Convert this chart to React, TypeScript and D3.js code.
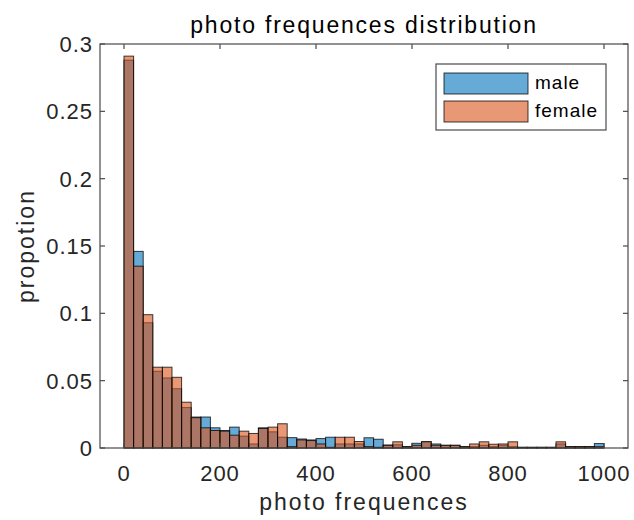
import React, { useEffect, useRef } from "react";
import * as d3 from "d3";

// histogram bin edges: 0..1000 step 20
const binStart = 0;
const binWidth = 20;

const maleValues = [
  0.288, 0.146, 0.093, 0.057, 0.052, 0.044, 0.03, 0.023, 0.023, 0.015,
  0.013, 0.0155, 0.0088, 0.003, 0.015, 0.012, 0.008, 0.0077, 0.0067, 0.006,
  0.007, 0.008, 0.003, 0.003, 0.003, 0.0076, 0.0065, 0.0022, 0.0024, 0.001,
  0.0035, 0.0045, 0.003, 0.002, 0.002, 0.001, 0.001, 0.002, 0.001, 0.002,
  0.001, 0.0005, 0.0005, 0.0005, 0.0005, 0.003, 0.001, 0.001, 0.001, 0.0033,
];

const femaleValues = [
  0.291, 0.135, 0.099, 0.06, 0.06, 0.0525, 0.034, 0.0225, 0.015, 0.013,
  0.0125, 0.0095, 0.0125, 0.0108, 0.0145, 0.0155, 0.018, 0.001, 0.006, 0.0055,
  0.003, 0.0005, 0.008, 0.008, 0.0048, 0.001, 0.0005, 0.002, 0.0046, 0.001,
  0.002, 0.0048, 0.002, 0.002, 0.002, 0.001, 0.003, 0.0046, 0.0028, 0.003,
  0.0046, 0.0005, 0.0005, 0.0005, 0.0005, 0.0046, 0.001, 0.001, 0.001, 0.001,
];

const xTicks = [0, 200, 400, 600, 800, 1000];
const yTicks = [0, 0.05, 0.1, 0.15, 0.2, 0.25, 0.3];
const yTickLabels = ["0", "0.05", "0.1", "0.15", "0.2", "0.25", "0.3"];

const seriesNames = ["male", "female"];
const seriesColors = ["#0072BD", "#D95319"];

const App = () => {
  const svgRef = useRef<SVGSVGElement>(null);

  useEffect(() => {
    const svg = d3.select(svgRef.current);
    svg.selectAll("*").remove();

    const width = 634,
      height = 520;
    const plot = { left: 100, right: 628, top: 44, bottom: 448 };
    const font = "'Liberation Sans', Arial, sans-serif";
    const axisColor = "#262626";
    const boxColor = "#4a4a4a";

    svg.attr("width", width).attr("height", height);

    const xScale = d3.scaleLinear().domain([-50, 1050]).range([plot.left, plot.right]);
    const yScale = d3.scaleLinear().domain([0, 0.3]).range([plot.bottom, plot.top]);

    svg.append("rect")
      .attr("width", width)
      .attr("height", height)
      .attr("fill", "#fff");

    // bars, male first then female on top
    [maleValues, femaleValues].forEach((vals, si) => {
      svg.append("g")
        .selectAll("rect")
        .data(vals)
        .enter()
        .append("rect")
        .attr("x", (d, i) => xScale(binStart + i * binWidth))
        .attr("y", (d) => yScale(d))
        .attr("width", (d, i) => xScale(binStart + (i + 1) * binWidth) - xScale(binStart + i * binWidth))
        .attr("height", (d) => yScale(0) - yScale(d))
        .attr("fill", seriesColors[si])
        .attr("fill-opacity", 0.6)
        .attr("stroke", "#000")
        .attr("stroke-opacity", 0.75)
        .attr("stroke-width", 1);
    });

    // box
    svg.append("rect")
      .attr("x", plot.left)
      .attr("y", plot.top)
      .attr("width", plot.right - plot.left)
      .attr("height", plot.bottom - plot.top)
      .attr("fill", "none")
      .attr("stroke", boxColor)
      .attr("stroke-width", 1.2);

    const tickLen = 5;
    const ticks = svg.append("g").attr("stroke", boxColor).attr("stroke-width", 1.2);
    xTicks.forEach((t) => {
      const x = xScale(t);
      ticks.append("line").attr("x1", x).attr("x2", x).attr("y1", plot.bottom).attr("y2", plot.bottom - tickLen);
      ticks.append("line").attr("x1", x).attr("x2", x).attr("y1", plot.top).attr("y2", plot.top + tickLen);
    });
    yTicks.forEach((t) => {
      const y = yScale(t);
      ticks.append("line").attr("x1", plot.left).attr("x2", plot.left + tickLen).attr("y1", y).attr("y2", y);
      ticks.append("line").attr("x1", plot.right).attr("x2", plot.right - tickLen).attr("y1", y).attr("y2", y);
    });

    // tick labels
    svg.append("g")
      .selectAll("text")
      .data(xTicks)
      .enter()
      .append("text")
      .attr("x", (d) => xScale(d))
      .attr("y", 481)
      .attr("text-anchor", "middle")
      .attr("font-family", font)
      .attr("font-size", 22)
      .attr("letter-spacing", 1)
      .attr("fill", axisColor)
      .text((d) => String(d));

    svg.append("g")
      .selectAll("text")
      .data(yTicks)
      .enter()
      .append("text")
      .attr("x", 93)
      .attr("y", (d) => yScale(d) + 8)
      .attr("text-anchor", "end")
      .attr("font-family", font)
      .attr("font-size", 22)
      .attr("letter-spacing", 1)
      .attr("fill", axisColor)
      .text((d, i) => yTickLabels[i]);

    // title and labels
    svg.append("text")
      .attr("x", (plot.left + plot.right) / 2)
      .attr("y", 33)
      .attr("text-anchor", "middle")
      .attr("font-family", font)
      .attr("font-size", 23)
      .attr("letter-spacing", 1.8)
      .attr("fill", "#000")
      .text("photo frequences distribution");

    svg.append("text")
      .attr("x", (plot.left + plot.right) / 2)
      .attr("y", 510)
      .attr("text-anchor", "middle")
      .attr("font-family", font)
      .attr("font-size", 23)
      .attr("letter-spacing", 2)
      .attr("fill", axisColor)
      .text("photo frequences");

    svg.append("text")
      .attr("transform", `translate(34, ${(plot.top + plot.bottom) / 2}) rotate(-90)`)
      .attr("text-anchor", "middle")
      .attr("font-family", font)
      .attr("font-size", 23)
      .attr("letter-spacing", 2)
      .attr("fill", axisColor)
      .text("propotion");

    // legend
    const legend = svg.append("g");
    legend.append("rect")
      .attr("x", 436)
      .attr("y", 64)
      .attr("width", 170)
      .attr("height", 66)
      .attr("fill", "#fff")
      .attr("stroke", boxColor)
      .attr("stroke-width", 1.2);
    seriesNames.forEach((name, i) => {
      const y = 73 + i * 28;
      legend.append("rect")
        .attr("x", 444)
        .attr("y", y)
        .attr("width", 84)
        .attr("height", 21)
        .attr("fill", seriesColors[i])
        .attr("fill-opacity", 0.6)
        .attr("stroke", "#000")
        .attr("stroke-opacity", 0.75);
      legend.append("text")
        .attr("x", 535)
        .attr("y", y + 16)
        .attr("font-family", font)
        .attr("font-size", 19)
        .attr("letter-spacing", 1)
        .attr("fill", "#000")
        .text(name);
    });
  }, []);

  return <svg ref={svgRef} style={{ position: "absolute", left: 0, top: 0 }}></svg>;
};

export default App;
